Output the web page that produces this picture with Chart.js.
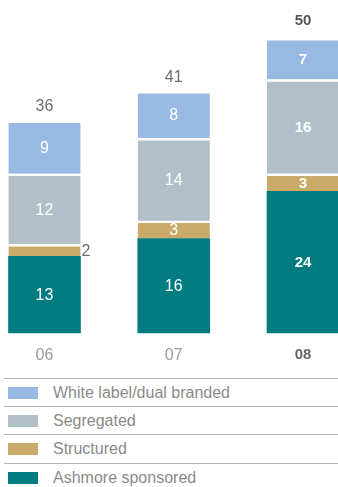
<!DOCTYPE html>
<html>
<head>
<meta charset="utf-8">
<script src="https://cdn.jsdelivr.net/npm/chart.js@4.4.1/dist/chart.umd.min.js"></script>
<style>
    body { margin: 0; background: #fff; font-family: "Liberation Sans", Arial, sans-serif; }
    #wrap { position: relative; width: 338px; height: 487px; overflow: hidden; }
    #chartBox { position: absolute; left: 0; top: 0; width: 338px; height: 377px; }
    .rule { position: absolute; left: 4px; width: 334px; height: 1.5px; background: #b4b4b4; }
    .row { position: absolute; left: 0; width: 338px; height: 28px; }
    .swatch { position: absolute; left: 8px; top: 8px; width: 30px; height: 12px; }
    .label { position: absolute; left: 53px; top: 5px; font-size: 16px; line-height: 18px; color: #8a8a8a; white-space: nowrap; }
</style>
</head>
<body>
<div id="wrap">
    <div id="chartBox"><canvas id="fundsChart"></canvas></div>
    <div id="legend"></div>
</div>
<script>
const years = ['06', '07', '08'];
const whiteLabel = [9, 8, 7];
const segregated = [12, 14, 16];
const structured = [2, 3, 3];
const sponsored = [13, 16, 24];
const totals = [36, 41, 50];

const seriesNames = ['White label/dual branded', 'Segregated', 'Structured', 'Ashmore sponsored'];
const seriesColors = ['#97b9e2', '#b0bfc8', '#c9aa68', '#007b80'];

// Values inside the segments, small ones beside the bar, totals on top
const barLabels = {
    id: 'barLabels',
    afterDatasetsDraw(chart) {
        const ctx = chart.ctx;
        ctx.save();
        ctx.textBaseline = 'middle';
        chart.data.datasets.forEach((ds, di) => {
            const meta = chart.getDatasetMeta(di);
            meta.data.forEach((bar, i) => {
                const bold = i === 2;
                ctx.font = (bold ? 'bold 15px' : '16px') + ' "Liberation Sans", Arial, sans-serif';
                const v = ds.data[i];
                const cy = (bar.y + bar.base) / 2 + 1;
                if (v < 3) {
                    ctx.fillStyle = '#6e6e6e';
                    ctx.textAlign = 'left';
                    ctx.fillText(v, bar.x + bar.width / 2 + 1, cy);
                } else {
                    ctx.fillStyle = '#ffffff';
                    ctx.textAlign = 'center';
                    ctx.fillText(v, bar.x, cy);
                }
            });
        });
        const yScale = chart.scales.y;
        const topMeta = chart.getDatasetMeta(chart.data.datasets.length - 1);
        totals.forEach((t, i) => {
            const bold = i === 2;
            ctx.font = (bold ? 'bold 15px' : '16px') + ' "Liberation Sans", Arial, sans-serif';
            ctx.fillStyle = bold ? '#555555' : '#6e6e6e';
            ctx.textAlign = 'center';
            ctx.fillText(t, topMeta.data[i].x, yScale.getPixelForValue(t) - (bold ? 17 : 14));
        });
        ctx.restore();
    }
};

const stackOrder = [sponsored, structured, segregated, whiteLabel];
const datasets = stackOrder.map((values, k) => {
    const idx = 3 - k;
    return {
        label: seriesNames[idx],
        data: values,
        backgroundColor: seriesColors[idx],
        borderColor: '#ffffff',
        borderWidth: k === 0 ? 0 : { top: 2.5, left: 0, right: 0, bottom: 0 },
        borderSkipped: false,
        barThickness: 72,
        clip: false
    };
});

new Chart(document.getElementById('fundsChart'), {
    type: 'bar',
    data: { labels: years, datasets: datasets },
    options: {
        responsive: true,
        maintainAspectRatio: false,
        animation: false,
        layout: { padding: { left: 44.5, right: 35, top: 0, bottom: 6 } },
        plugins: { legend: { display: false }, tooltip: { enabled: false } },
        scales: {
            x: {
                stacked: true,
                offset: false,
                grid: { display: false },
                border: { display: false },
                ticks: {
                    padding: 5.5,
                    color: ctx => ctx.index === 2 ? '#666666' : '#9a9a9a',
                    font: ctx => ({
                        family: '"Liberation Sans", Arial, sans-serif',
                        size: ctx.index === 2 ? 15 : 16,
                        weight: ctx.index === 2 ? 'bold' : 'normal'
                    })
                }
            },
            y: {
                stacked: true,
                display: false,
                min: 0,
                max: 56.5
            }
        }
    },
    plugins: [barLabels]
});

// Legend rows separated by thin rules
const legend = document.getElementById('legend');
const ruleTops = [377.5, 405.5, 433.5, 462.5];
ruleTops.forEach((top, i) => {
    const rule = document.createElement('div');
    rule.className = 'rule';
    rule.style.top = top + 'px';
    legend.appendChild(rule);

    const row = document.createElement('div');
    row.className = 'row';
    row.style.top = (top + 1.5) + 'px';
    row.innerHTML = '<div class="swatch" style="background:' + seriesColors[i] + '"></div>' +
        '<div class="label">' + seriesNames[i] + '</div>';
    legend.appendChild(row);
});
</script>
</body>
</html>
